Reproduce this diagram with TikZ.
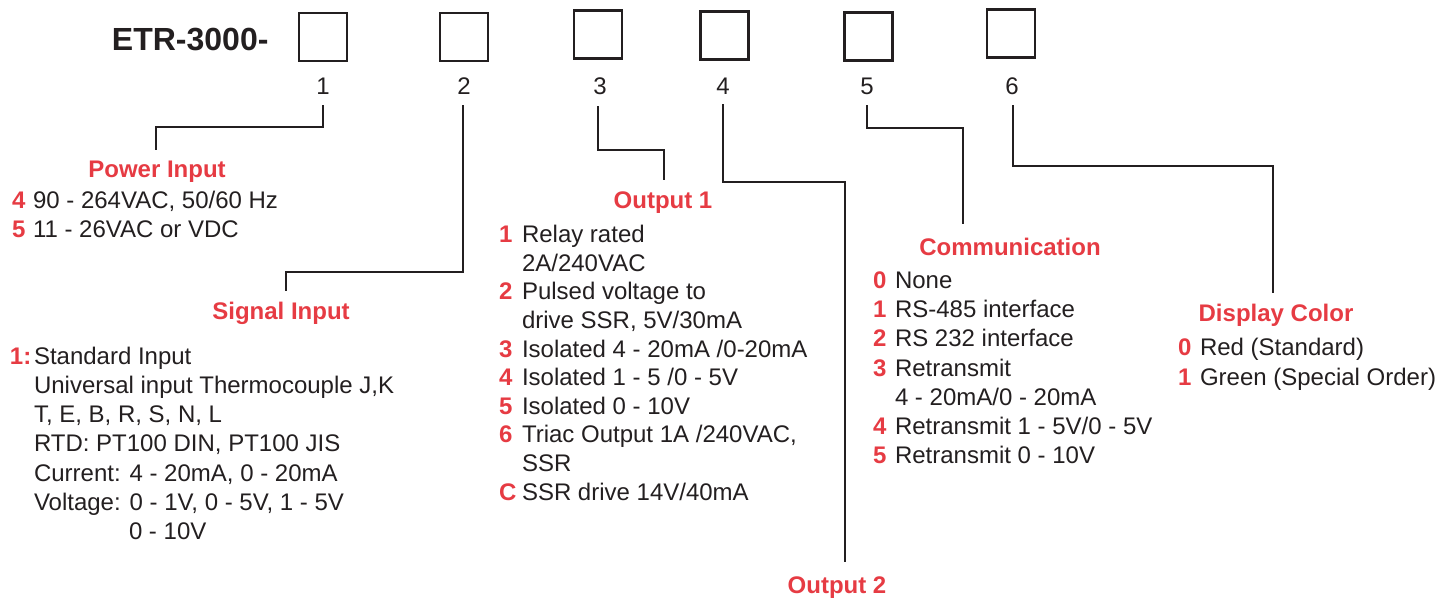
\documentclass[tikz,border=0pt]{standalone}
\usepackage{fontspec}
\setmainfont{Liberation Sans}
\definecolor{codered}{HTML}{E63B43}
\definecolor{ink}{HTML}{231F20}
\begin{document}
\begin{tikzpicture}[x=0.5pt,y=-0.5pt,
  every node/.style={inner sep=0pt, outer sep=0pt, text=ink, font=\fontsize{12pt}{14pt}\selectfont},
  num/.style={anchor=base west, text=codered, font=\fontsize{12pt}{14pt}\selectfont\bfseries},
  txt/.style={anchor=base west},
  head/.style={anchor=base, text=codered, font=\fontsize{12pt}{14pt}\selectfont\bfseries},
  codebox/.style={draw=ink, line width=1.25pt, minimum size=24pt},
  conn/.style={draw=ink, line width=1pt},
  digit/.style={anchor=base}]
\useasboundingbox (0,0) rectangle (1453,601);

% title and code boxes
\node[anchor=base west, font=\fontsize{16pt}{18pt}\selectfont\bfseries] (etr) at (112,50) {ETR-3000-};
\node[codebox] (b1) at (323,37) {};
\node[codebox] (b2) at (464,37) {};
\node[codebox] (b3) at (598,34.5) {};
\node[codebox] (b4) at (724.5,35.5) {};
\node[codebox] (b5) at (868.5,36.5) {};
\node[codebox] (b6) at (1011,33.5) {};
\node[digit] (l1) at (323,94) {1};
\node[digit] (l2) at (464,94) {2};
\node[digit] (l3) at (600,94) {3};
\node[digit] (l4) at (723,94) {4};
\node[digit] (l5) at (867,94) {5};
\node[digit] (l6) at (1012,94) {6};

% connectors
\coordinate (t1) at (323,105); \coordinate (k1) at (156,127); \coordinate (e1) at (156,150);
\coordinate (t2) at (463,105); \coordinate (k2) at (286,272); \coordinate (e2) at (286,291);
\coordinate (t3) at (598,106); \coordinate (k3) at (664,150); \coordinate (e3) at (664,180);
\coordinate (t4) at (723,104); \coordinate (k4) at (845,182); \coordinate (e4) at (845,562);
\coordinate (t5) at (867,105); \coordinate (k5) at (963,128); \coordinate (e5) at (963,224);
\coordinate (t6) at (1013,105); \coordinate (k6) at (1273,166); \coordinate (e6) at (1273,293);
\draw[conn] (t1) |- (k1) -- (e1);
\draw[conn] (t2) |- (k2) -- (e2);
\draw[conn] (t3) |- (k3) -- (e3);
\draw[conn] (t4) |- (k4) -- (e4);
\draw[conn] (t5) |- (k5) -- (e5);
\draw[conn] (t6) |- (k6) -- (e6);

% Power Input
\node[head] (hPow) at (157,177) {Power Input};
\node[num] (p4n) at (12,208) {4}; \node[txt] (p4t) at (33,208) {90 - 264VAC, 50/60 Hz};
\node[num] (p5n) at (12,237) {5}; \node[txt] (p5t) at (33,237) {11 - 26VAC or VDC};

% Signal Input
\node[head] (hSig) at (281,319) {Signal Input};
\node[num] (s1n) at (10,364) {1:};
\node[txt] (s1t) at (34,364) {Standard Input};
\node[txt] (s2t) at (34,393) {Universal input Thermocouple J,K};
\node[txt] (s3t) at (34,422) {T, E, B, R, S, N, L};
\node[txt] (s4t) at (34,451) {RTD: PT100 DIN, PT100 JIS};
\node[txt] (s5t) at (34,481) {Current: 4 - 20mA, 0 - 20mA};
\node[txt] (s6t) at (34,510) {Voltage: 0 - 1V, 0 - 5V, 1 - 5V};
\node[txt] (s7t) at (129,539) {0 - 10V};

% Output 1
\node[head] (hOut1) at (663,208) {Output 1};
\node[num] (o1n) at (499,242) {1}; \node[txt] (o1t) at (522,242) {Relay rated};
\node[txt] (o1u) at (522,271) {2A/240VAC};
\node[num] (o2n) at (499,299) {2}; \node[txt] (o2t) at (522,299) {Pulsed voltage to};
\node[txt] (o2u) at (522,328) {drive SSR, 5V/30mA};
\node[num] (o3n) at (499,357) {3}; \node[txt] (o3t) at (522,357) {Isolated 4 - 20mA /0-20mA};
\node[num] (o4n) at (499,385) {4}; \node[txt] (o4t) at (522,385) {Isolated 1 - 5 /0 - 5V};
\node[num] (o5n) at (499,414) {5}; \node[txt] (o5t) at (522,414) {Isolated 0 - 10V};
\node[num] (o6n) at (499,442) {6}; \node[txt] (o6t) at (522,442) {Triac Output 1A /240VAC,};
\node[txt] (o6u) at (522,471) {SSR};
\node[num] (oCn) at (499,500) {C}; \node[txt] (oCt) at (522,500) {SSR drive 14V/40mA};

% Output 2
\node[head] (hOut2) at (837,593) {Output 2};

% Communication
\node[head] (hCom) at (1010,255) {Communication};
\node[num] (c0n) at (873,288) {0}; \node[txt] (c0t) at (895,288) {None};
\node[num] (c1n) at (873,317) {1}; \node[txt] (c1t) at (895,317) {RS-485 interface};
\node[num] (c2n) at (873,346) {2}; \node[txt] (c2t) at (895,346) {RS 232 interface};
\node[num] (c3n) at (873,376) {3}; \node[txt] (c3t) at (895,376) {Retransmit};
\node[txt] (c3u) at (895,405) {4 - 20mA/0 - 20mA};
\node[num] (c4n) at (873,434) {4}; \node[txt] (c4t) at (895,434) {Retransmit 1 - 5V/0 - 5V};
\node[num] (c5n) at (873,463) {5}; \node[txt] (c5t) at (895,463) {Retransmit 0 - 10V};

% Display Color
\node[head] (hDis) at (1276,321) {Display Color};
\node[num] (d0n) at (1178,355) {0}; \node[txt] (d0t) at (1200,355) {Red (Standard)};
\node[num] (d1n) at (1178,385) {1}; \node[txt] (d1t) at (1200,385) {Green (Special Order)};
\end{tikzpicture}
\end{document}
